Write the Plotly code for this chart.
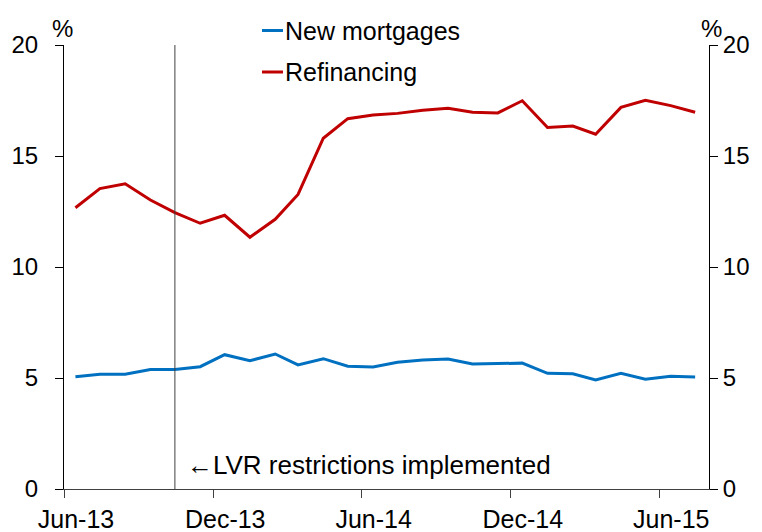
import pandas as pd
import plotly.graph_objects as go

# monthly data, Jun-13 .. Jul-15 (plotted mid-month)
months = pd.date_range("2013-06-01", periods=26, freq="MS") + pd.Timedelta(days=14)

new_mortgages = [5.06, 5.17, 5.17, 5.38, 5.38, 5.51, 6.05, 5.78, 6.08, 5.59,
                 5.87, 5.53, 5.50, 5.71, 5.81, 5.86, 5.63, 5.66, 5.67, 5.21,
                 5.19, 4.91, 5.21, 4.94, 5.08, 5.05]
refinancing = [12.67, 13.53, 13.75, 13.02, 12.45, 11.97, 12.33, 11.34, 12.15, 13.27,
               15.80, 16.68, 16.85, 16.92, 17.06, 17.15, 16.97, 16.94, 17.49, 16.28,
               16.35, 15.98, 17.19, 17.51, 17.27, 16.97]

tick_dates = ["2013-06-01", "2013-12-01", "2014-06-01", "2014-12-01", "2015-06-01"]
tick_labels = ["Jun-13", "Dec-13", "Jun-14", "Dec-14", "Jun-15"]
x_range = ["2013-06-01", "2015-08-01"]
lvr_date = "2013-10-15"

FONT = "Arial, Liberation Sans, sans-serif"
BLUE = "#0070C0"
RED = "#C00000"

# page body has an 8px margin, so the figure is a bit smaller than the window
W, H = 754, 524
L, R, T, B = 56, 53, 37, 43


def px_x(p):
    return (p - 8 - L) / (W - L - R)


def px_y(p):
    return (H - B - (p - 8)) / (H - T - B)


fig = go.Figure()

fig.add_trace(go.Scatter(
    x=months, y=new_mortgages, mode="lines", name="New mortgages",
    line=dict(color=BLUE, width=3), showlegend=False
))
fig.add_trace(go.Scatter(
    x=months, y=refinancing, mode="lines", name="Refinancing",
    line=dict(color=RED, width=3), showlegend=False
))
# invisible copy so the right-hand axis gets drawn
fig.add_trace(go.Scatter(
    x=months, y=refinancing, yaxis="y2", mode="lines", opacity=0,
    showlegend=False, hoverinfo="skip"
))

# legend drawn by hand (short line samples)
for name, color, ypix in [("New mortgages", BLUE, 30.5), ("Refinancing", RED, 72)]:
    fig.add_shape(type="line", xref="paper", yref="paper",
                  x0=px_x(262), x1=px_x(283), y0=px_y(ypix), y1=px_y(ypix),
                  line=dict(color=color, width=3))
    fig.add_annotation(x=px_x(283), y=px_y(ypix), xref="paper", yref="paper",
                       text=name, showarrow=False, xanchor="left", yanchor="middle",
                       font=dict(family=FONT, size=25, color="black"))

# LVR line
fig.add_shape(type="line", x0=lvr_date, x1=lvr_date, y0=0, y1=1, yref="paper",
              line=dict(color="#404040", width=1))
fig.add_annotation(x=lvr_date, y=1.1, yref="y", text="←LVR restrictions implemented",
                   showarrow=False, xanchor="left", xshift=10,
                   font=dict(family=FONT, size=26, color="black"))

# % units
fig.add_annotation(x=px_x(62), y=px_y(28), xref="paper", yref="paper", text="%",
                   showarrow=False, xanchor="center", yanchor="middle",
                   font=dict(family=FONT, size=24, color="black"))
fig.add_annotation(x=px_x(711), y=px_y(28), xref="paper", yref="paper", text="%",
                   showarrow=False, xanchor="center", yanchor="middle",
                   font=dict(family=FONT, size=24, color="black"))

yax = dict(
    range=[0, 20], tickvals=[0, 5, 10, 15, 20], showgrid=False, zeroline=False,
    showline=True, linecolor="black", linewidth=1, automargin=False,
    ticks="outside", ticklen=8, tickcolor="black",
    tickfont=dict(family=FONT, size=24, color="black"),
)

fig.update_layout(
    width=W, height=H,
    margin=dict(l=L, r=R, t=T, b=B),
    plot_bgcolor="white", paper_bgcolor="white",
    font=dict(family=FONT, size=24, color="black"),
    showlegend=False,
    xaxis=dict(
        range=x_range, tickvals=tick_dates, ticktext=tick_labels,
        showgrid=False, zeroline=False, showline=True, linecolor="#404040",
        ticks="outside", ticklen=8, tickcolor="#404040", automargin=False,
        ticklabelshift=12,
        tickfont=dict(family=FONT, size=25, color="black"),
    ),
    yaxis=dict(**yax, side="left", ticklabelstandoff=12),
    yaxis2=dict(**yax, side="right", overlaying="y"),
)

fig.write_html("out.html")
